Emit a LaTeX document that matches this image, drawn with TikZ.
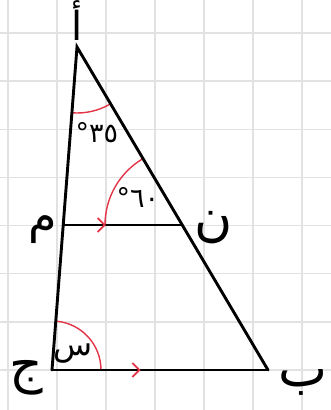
\documentclass[tikz,border=0pt]{standalone}
\usepackage{fontspec}
\newfontfamily\arabicfont[Script=Arabic]{DejaVu Sans}
\TeXXeTstate=1
\usetikzlibrary{angles,arrows.meta,decorations.markings}
\definecolor{arcred}{RGB}{228,52,72}
\definecolor{gridgray}{RGB}{226,226,226}
\tikzset{
  gridline/.style={draw=gridgray, line width=1.5pt},
  side/.style={draw=black, line width=2.9pt, line cap=round, line join=miter},
  arcmark/.style={draw=arcred, line width=1.4pt},
  parmark/.style={postaction={decorate}, decoration={markings,
      mark=at position #1 with {\arrow[arcred, line width=1.8pt]{Straight Barb[length=7pt,width=14pt]}}}},
  ptlabel/.style={inner sep=0pt, font=\arabicfont\fontsize{52}{56}\selectfont},
  anglabel/.style={inner sep=0pt, font=\arabicfont\fontsize{27}{30}\selectfont},
}
\begin{document}
\begin{tikzpicture}[x=1pt, y=-1pt]
  \useasboundingbox (0,0) rectangle (331,410);
  \fill[white] (0,0) rectangle (331,410);
  % grid
  \foreach \gx in {8,57,106,155,204,253,302} \draw[gridline] (\gx,0) -- (\gx,410);
  \foreach \k in {0,...,7} \draw[gridline] (0,33+48.14*\k) -- (331,33+48.14*\k);
  % vertices
  \coordinate (A) at (77,47);
  \coordinate (C) at (52,370);
  \coordinate (B) at (268,370);
  \coordinate (M) at (63.2,225);
  \coordinate (N) at (182,225);
  % angle arcs
  \pic[arcmark, angle radius=66pt] {angle=C--A--B};
  \pic[arcmark, angle radius=77pt] {angle=A--N--M};
  \pic[arcmark, angle radius=49pt] {angle=B--C--A};
  % sides
  \draw[side] (C) -- (A) -- (B);
  \draw[side, parmark=0.41] (C) -- (B);
  \draw[side, parmark=0.36] (M) -- (N);
  % point labels
  \node[ptlabel, font=\arabicfont\fontsize{40}{44}\selectfont] (la) at (77,21) {\beginR أ\endR};
  \node[ptlabel] (lb) at (303,382) {\beginR ب\endR};
  \node[ptlabel] (lc) at (26,378) {\beginR ج\endR};
  \node[ptlabel, font=\arabicfont\fontsize{46}{50}\selectfont] (lm) at (43,230) {\beginR م\endR};
  \node[ptlabel] (ln) at (214,228) {\beginR ن\endR};
  % angle labels
  \node[anglabel] (a35) at (97,133) {°\kern0pt ٣\kern0pt ٥};
  \node[anglabel] (a60) at (138,197) {°\kern0pt ٦\kern0pt ٠};
  \node[anglabel, font=\arabicfont\fontsize{32}{34}\selectfont] (ax) at (73,354) {\beginR س\endR};
\end{tikzpicture}
\end{document}
